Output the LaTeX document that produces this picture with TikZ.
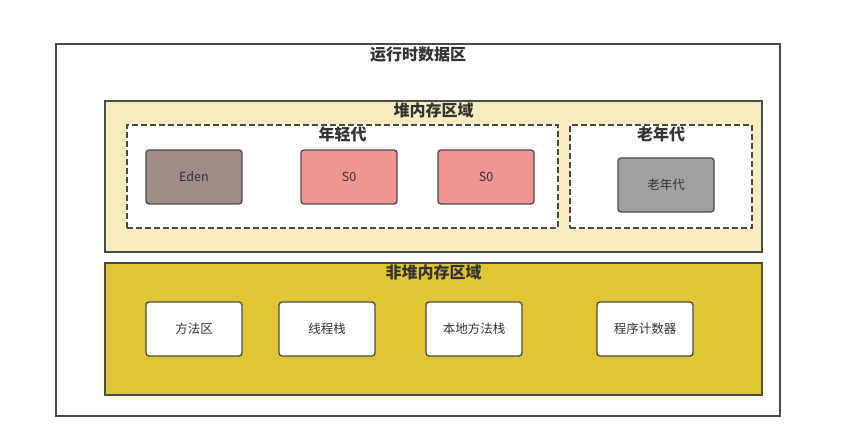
\documentclass[tikz,border=0pt]{standalone}
\usepackage{fontspec}
\setmainfont{Noto Sans CJK SC}
\usetikzlibrary{positioning}
\definecolor{heapfill}{HTML}{F6ECC0}
\definecolor{nonheapfill}{HTML}{E0C432}
\definecolor{edenfill}{HTML}{9F8C87}
\definecolor{survfill}{HTML}{F09494}
\definecolor{oldfill}{HTML}{9F9F9F}
\definecolor{edge}{HTML}{4A4A4A}
\definecolor{ink}{HTML}{333333}

\begin{document}
\begin{tikzpicture}[
        x=1pt,
        y=-1pt,
        area/.style={draw=edge, line width=1.2pt, inner sep=0pt},
        gen/.style={draw=edge, line width=1.5pt, dash pattern=on 6pt off 3pt, fill=white, inner sep=0pt},
        cell/.style={draw=edge, line width=1.3pt, rounded corners=3pt, minimum width=96pt, minimum height=54pt,
                     inner sep=0pt, font=\fontsize{12.5}{14}\selectfont, text=ink},
        title/.style={font=\fontsize{16}{18}\selectfont\bfseries, text=ink, anchor=north, inner sep=0pt}
    ]
        \useasboundingbox (0,0) rectangle (847,435);

        % === CADRE GENERAL ===
        \node[area, fill=white, minimum width=724pt, minimum height=372pt] (rt) at (418,230) {};
        \node[title] (rtT) at ([yshift=-3pt]rt.north) {运行时数据区};

        % === TAS ===
        \node[area, fill=heapfill, minimum width=657pt, minimum height=151pt] (heap) at (433.5,176.5) {};
        \node[title] (heapT) at ([yshift=-2pt]heap.north) {堆内存区域};
        % jeune generation
        \node[gen, minimum width=431pt, minimum height=103pt] (young) at (342.5,176.5) {};
        \node[title] (youngT) at ([yshift=-2pt]young.north) {年轻代};
        \node[cell, fill=edenfill] (eden) at (194,177) {Eden};
        \node[cell, fill=survfill] (s0a) at (349,177) {S0};
        \node[cell, fill=survfill] (s0b) at (486,177) {S0};
        % vieille generation
        \node[gen, minimum width=182pt, minimum height=103pt] (old) at (661,176.5) {};
        \node[title] (oldT) at ([yshift=-2pt]old.north) {老年代};
        \node[cell, fill=oldfill] (oldbox) at (666,185) {老年代};

        % === HORS TAS ===
        \node[area, fill=nonheapfill, minimum width=657pt, minimum height=132pt] (nonheap) at (433.5,329) {};
        \node[title] (nonheapT) at ([yshift=-2pt]nonheap.north) {非堆内存区域};
        \node[cell, fill=white] (method) at (194,329) {方法区};
        \node[cell, fill=white] (stack) at (327,329) {线程栈};
        \node[cell, fill=white] (native) at (474,329) {本地方法栈};
        \node[cell, fill=white] (pc) at (645,329) {程序计数器};
    \end{tikzpicture}
\end{document}
